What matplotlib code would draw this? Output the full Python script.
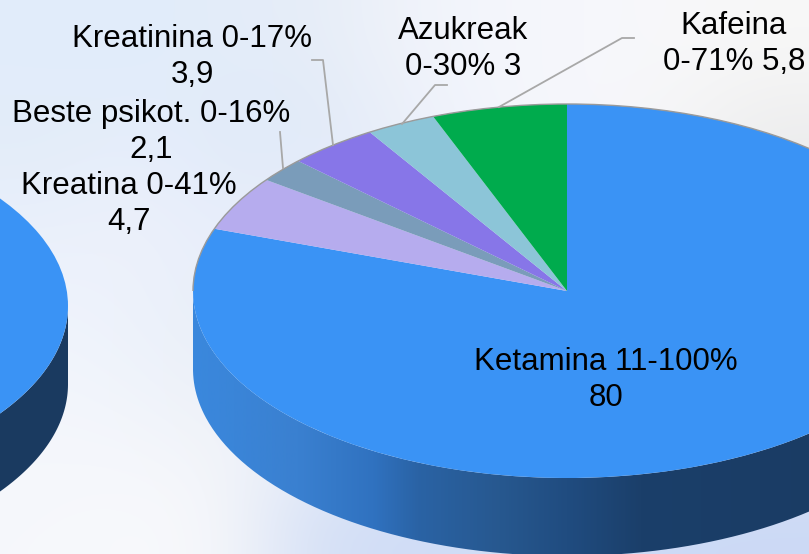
import numpy as np
import matplotlib
matplotlib.use('Agg')
import matplotlib.pyplot as plt
from matplotlib.colors import LinearSegmentedColormap, to_rgb
from matplotlib.patches import Arc, PathPatch
from matplotlib.path import Path

plt.rcParams['font.family'] = ['Liberation Sans', 'DejaVu Sans']

# datuak
values = [80, 4.7, 2.1, 3.9, 3, 5.8]
colors = ['#3a93f5', '#b6acee', '#7a9cba', '#8776e8', '#8cc5d8', '#00ab4d']
labels = ['Ketamina 11-100%\n80', 'Kreatina 0-41%\n4,7', 'Beste psikot. 0-16%\n2,1',
          'Kreatinina 0-17%\n3,9', 'Azukreak\n0-30% 3', 'Kafeina\n0-71% 5,8']
label_x = [606, 129, 151, 192, 463, 734]
label_y = [380, 204, 132, 57, 49, 44]
left_values = [100]
left_colors = ['#3a93f5']

# atzeko planoa, koloreak irudian irakurrita
bg_rows = [
    ['#e2edfb', '#e0ecfa', '#e4edfa', '#e6edf8', '#f0f3fa', '#f4f6fc', '#f6f7fc', '#f8f8fa', '#f8f8f8'],
    ['#e2ecf9', '#e6eefa', '#e0eafa', '#dfe9f8', '#eaeffa', '#f3f5fc', '#f7f8fc', '#f5f5f6', '#ececec'],
    ['#eaf0fb', '#eef1fb', '#e8eefa', '#eceffb', '#e8eefa', '#eef1fa', '#f0f2f6', '#f0f2f6', '#e8eaee'],
    ['#f0f4fc', '#ecf2fb', '#e8eef8', '#eef2fc', '#f2f3fd', '#f0f2f8', '#f0f2f8', '#f0f2f8', '#e8eaee'],
    ['#f4f6fb', '#f2f5fb', '#eef1f8', '#f2f5fb', '#f6f7fb', '#f2f4f8', '#f2f4f8', '#f2f4f8', '#e8eaf4'],
    ['#f6f8fc', '#f8f9fc', '#f6f7fa', '#d5e0f6', '#cfdcf6', '#cfdcf6', '#cfdcf6', '#cbd9f6', '#cbd9f6'],
]
wall_stops = [0.0, 0.14, 0.24, 0.30, 0.41, 0.5, 0.6, 1.0]
wall_colors = ['#3a88dd', '#3a80d0', '#3072c0', '#2a63a5', '#27588f', '#204c80', '#1b3f6a', '#1a3a60']
left_wall_color = '#1a3a60'

W, H = 809, 554
CX, CY = 567, 291
LEFT_CX, LEFT_CY = -306, 306
RX, RY = 374, 187
DEPTH = 78

leaders = [
    ([312, 323, 333], [60, 60, 145]),
    ([280, 283], [132, 168]),
    ([447, 435, 402], [85, 85, 124]),
    ([634, 622, 499], [38, 38, 107]),
]


def wall_path(cx, cy):
    # pastelaren alboko horma: beheko ertzaren bi arkuak
    t = np.linspace(np.pi, 0, 300)
    x = cx + RX * np.cos(t)
    y = cy + RY * np.sin(t)
    px = np.concatenate([x, x[::-1]])
    py = np.concatenate([y, y[::-1] + DEPTH])
    return Path(np.column_stack([px, py]))


fig = plt.figure(figsize=(W / 100, H / 100), dpi=100)

# pixel koordenatuak: atzeko planoa eta hormak
ax_bg = fig.add_axes([0, 0, 1, 1], zorder=0)
ax_bg.set_axis_off()
bg = np.array([[to_rgb(c) for c in row] for row in bg_rows])
ax_bg.imshow(bg, extent=(0, W, H, 0), aspect='auto', interpolation='bicubic')

cmap = LinearSegmentedColormap.from_list('wall', list(zip(wall_stops, wall_colors)))
grad = np.linspace(0, 1, 256).reshape(1, -1)
im = ax_bg.imshow(grad, extent=(CX - RX, CX + RX, H + 10, 0), aspect='auto', cmap=cmap)
patch = PathPatch(wall_path(CX, CY), transform=ax_bg.transData, fc='none', ec='none')
ax_bg.add_patch(patch)
im.set_clip_path(patch)
ax_bg.add_patch(PathPatch(wall_path(LEFT_CX, LEFT_CY), fc=left_wall_color, ec='none'))
ax_bg.set_xlim(0, W)
ax_bg.set_ylim(H, 0)

# pie-ak: unitate bat = erradio bat ardatz bakoitzean, hala elipse ateratzen da
ax = fig.add_axes([0, 0, 1, 1], zorder=1)
ax.patch.set_alpha(0)
ax.pie(values, colors=colors, startangle=90, counterclock=False, radius=1,
       wedgeprops={'linewidth': 0})
ax.pie(left_values, colors=left_colors, startangle=90, radius=1,
       center=((LEFT_CX - CX) / RX, (CY - LEFT_CY) / RY), wedgeprops={'linewidth': 0})
ax.add_patch(Arc((0, 0), 2, 2, theta1=0, theta2=180, color='#9a9a9a', lw=1))
ax.set_aspect('auto')
ax.set_xlim(-CX / RX, (W - CX) / RX)
ax.set_ylim((CY - H) / RY, CY / RY)
ax.set_axis_off()

for xs, ys in leaders:
    ax.plot(xs, ys, color='#a8a8a8', lw=1.3, transform=ax_bg.transData)

for txt, x, y in zip(labels, label_x, label_y):
    ax.text(x, y, txt, transform=ax_bg.transData, ha='center', va='center',
            fontsize=22.5, color='black', linespacing=1.24)

plt.savefig('out.png', dpi=100)
plt.close()
